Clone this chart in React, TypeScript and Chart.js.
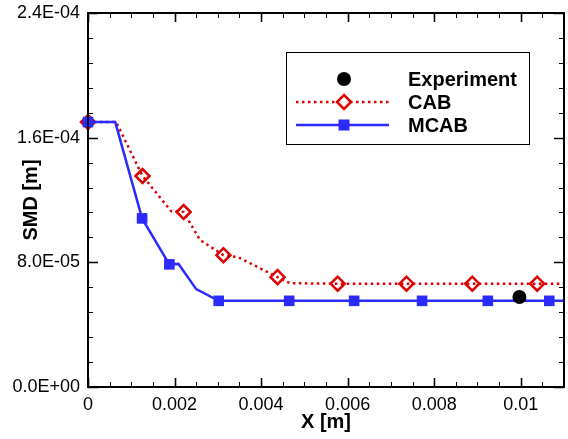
import React, { useEffect, useRef } from "react";
import { Chart, registerables } from "chart.js";

Chart.register(...registerables);

const FONT = '"Liberation Sans", Arial, Helvetica, sans-serif';

// Axis ranges and ticks
const xMin = 0;
const xMax = 0.011;
const xMajorStep = 0.002;
const xMinorStep = 0.0005;
const yMin = 0;
const yMax = 2.4e-4;
const yMajorStep = 8e-5;
const yMinorStep = 1.6e-5;

// Series names
const seriesNames = ["Experiment", "CAB", "MCAB"];

// Experiment
const expX = [0.00997];
const expY = [5.78e-5];

// CAB (line vertices; markers shown where cabMarked = 1)
const cabX = [0, 0.00065, 0.00126, 0.00192, 0.00221, 0.00259, 0.00313, 0.00347, 0.00438, 0.00467, 0.00577, 0.00736, 0.00888, 0.01038, 0.011];
const cabY = [1.70e-4, 1.70e-4, 1.354e-4, 1.129e-4, 1.123e-4, 9.43e-5, 8.46e-5, 8.33e-5, 7.05e-5, 6.66e-5, 6.63e-5, 6.63e-5, 6.63e-5, 6.63e-5, 6.63e-5];
const cabMarked = [1, 0, 1, 0, 1, 0, 1, 0, 1, 0, 1, 1, 1, 1, 0];

// MCAB
const mcabX = [0, 0.00063, 0.00125, 0.00188, 0.00209, 0.0025, 0.00302, 0.00465, 0.00615, 0.00772, 0.00924, 0.01066, 0.011];
const mcabY = [1.70e-4, 1.70e-4, 1.082e-4, 7.87e-5, 7.9e-5, 6.28e-5, 5.53e-5, 5.53e-5, 5.53e-5, 5.53e-5, 5.53e-5, 5.53e-5, 5.53e-5];
const mcabMarked = [1, 0, 1, 1, 0, 0, 1, 1, 1, 1, 1, 1, 0];

const RED = "#dd0000";
const BLUE = "#2b2bff";

function fmtExp(v: number): string {
  if (Math.abs(v) < 1e-12) return "0.0E+00";
  const e = Math.floor(Math.log10(Math.abs(v)) + 1e-9);
  const m = v / Math.pow(10, e);
  const sign = e < 0 ? "-" : "+";
  return m.toFixed(1) + "E" + sign + String(Math.abs(e)).padStart(2, "0");
}

function fmtX(v: number): string {
  if (Math.abs(v) < 1e-12) return "0";
  return parseFloat(v.toFixed(4)).toString();
}

const zip = (xs: number[], ys: number[]) => xs.map((x, i) => ({ x, y: ys[i] }));

function drawDiamond(ctx: CanvasRenderingContext2D, cx: number, cy: number, r: number) {
  ctx.beginPath();
  ctx.moveTo(cx, cy - r);
  ctx.lineTo(cx + r, cy);
  ctx.lineTo(cx, cy + r);
  ctx.lineTo(cx - r, cy);
  ctx.closePath();
}

const framePlugin = {
  id: "framePlugin",
  afterDraw(chart: any) {
    const ctx: CanvasRenderingContext2D = chart.ctx;
    const { left, right, top, bottom } = chart.chartArea;
    const xs = chart.scales.x;
    const ys = chart.scales.y;
    ctx.save();
    ctx.strokeStyle = "#000";
    // ticks
    const nx = Math.round((xMax - xMin) / xMinorStep);
    const perX = Math.round(xMajorStep / xMinorStep);
    for (let i = 0; i <= nx; i++) {
      const px = Math.round(xs.getPixelForValue(xMin + i * xMinorStep)) + 0.5;
      const major = i % perX === 0;
      const len = major ? 9 : 5;
      ctx.lineWidth = major ? 1.6 : 1;
      ctx.beginPath();
      ctx.moveTo(px, bottom);
      ctx.lineTo(px, bottom - len);
      ctx.moveTo(px, top);
      ctx.lineTo(px, top + len);
      ctx.stroke();
    }
    const ny = Math.round((yMax - yMin) / yMinorStep);
    const perY = Math.round(yMajorStep / yMinorStep);
    for (let i = 0; i <= ny; i++) {
      const py = Math.round(ys.getPixelForValue(yMin + i * yMinorStep)) + 0.5;
      const major = i % perY === 0;
      const len = major ? 10 : 5;
      ctx.lineWidth = major ? 1.6 : 1;
      ctx.beginPath();
      ctx.moveTo(left, py);
      ctx.lineTo(left + len, py);
      ctx.moveTo(right, py);
      ctx.lineTo(right - len, py);
      ctx.stroke();
    }
    // frame
    ctx.lineWidth = 2;
    ctx.strokeRect(left, top, right - left, bottom - top);

    // axis titles
    ctx.fillStyle = "#000";
    ctx.font = "bold 20px " + FONT;
    ctx.textAlign = "center";
    ctx.textBaseline = "middle";
    ctx.fillText("X [m]", (left + right) / 2, bottom + 35);
    ctx.save();
    ctx.translate(31.5, (top + bottom) / 2);
    ctx.rotate(-Math.PI / 2);
    ctx.fillText("SMD [m]", 0, 0);
    ctx.restore();

    // legend
    const bx = right - 278;
    const by = top + 39;
    const bw = 243;
    const bh = 92;
    ctx.fillStyle = "#fff";
    ctx.fillRect(bx, by, bw, bh);
    ctx.lineWidth = 1;
    ctx.strokeStyle = "#000";
    ctx.strokeRect(bx + 0.5, by + 0.5, bw, bh);
    const symX = bx + 58;
    const lineX0 = bx + 10;
    const lineX1 = bx + 103;
    const textX = bx + 122;
    const rows = [by + 27, by + 50, by + 73];

    // Experiment
    ctx.fillStyle = "#000";
    ctx.beginPath();
    ctx.arc(symX, rows[0], 7, 0, Math.PI * 2);
    ctx.fill();
    // CAB
    ctx.strokeStyle = RED;
    ctx.lineWidth = 2.5;
    ctx.setLineDash([2.5, 3.5]);
    ctx.beginPath();
    ctx.moveTo(lineX0, rows[1]);
    ctx.lineTo(lineX1, rows[1]);
    ctx.stroke();
    ctx.setLineDash([]);
    ctx.fillStyle = "#fff";
    drawDiamond(ctx, symX, rows[1], 7);
    ctx.fill();
    ctx.stroke();
    // MCAB
    ctx.strokeStyle = BLUE;
    ctx.lineWidth = 2.5;
    ctx.beginPath();
    ctx.moveTo(lineX0, rows[2]);
    ctx.lineTo(lineX1, rows[2]);
    ctx.stroke();
    ctx.fillStyle = BLUE;
    ctx.fillRect(symX - 5.5, rows[2] - 5.5, 11, 11);

    ctx.fillStyle = "#000";
    ctx.font = "bold 20px " + FONT;
    ctx.textAlign = "left";
    ctx.textBaseline = "middle";
    seriesNames.forEach((n, i) => ctx.fillText(n, textX, rows[i] + 1));
    ctx.restore();
  },
};

export default function App() {
  const ref = useRef<HTMLCanvasElement | null>(null);
  useEffect(() => {
    if (!ref.current) return;
    const chart = new Chart(ref.current, {
      type: "line",
      data: {
        datasets: [
          {
            label: seriesNames[0],
            data: zip(expX, expY),
            showLine: false,
            pointRadius: 7,
            pointBackgroundColor: "#000",
            pointBorderColor: "#000",
            pointBorderWidth: 0,
            clip: false as any,
          },
          {
            label: seriesNames[2],
            data: zip(mcabX, mcabY),
            borderColor: BLUE,
            borderWidth: 2.5,
            tension: 0,
            pointStyle: "rect",
            pointRadius: mcabMarked.map((m) => (m ? 7.5 : 0)),
            pointBackgroundColor: BLUE,
            pointBorderColor: BLUE,
            pointBorderWidth: 0,
            clip: false as any,
          },
          {
            label: seriesNames[1],
            data: zip(cabX, cabY),
            borderColor: RED,
            borderWidth: 2.5,
            borderDash: [2.5, 3.5],
            tension: 0,
            pointStyle: "rectRot",
            pointRadius: cabMarked.map((m) => (m ? 7 : 0)),
            pointBackgroundColor: "rgba(0,0,0,0)",
            pointBorderColor: RED,
            pointBorderWidth: 2.5,
            clip: false as any,
          },
        ],
      },
      options: {
        responsive: false,
        devicePixelRatio: 1,
        animation: false,
        layout: { autoPadding: false, padding: { left: 0, right: 4, top: 13, bottom: 0 } },
        plugins: { legend: { display: false }, tooltip: { enabled: false } },
        scales: {
          x: {
            type: "linear",
            min: xMin,
            max: xMax,
            grid: { display: false, drawTicks: false },
            border: { display: false },
            ticks: {
              stepSize: xMajorStep,
              includeBounds: false,
              padding: 7,
              color: "#000",
              font: { family: FONT, size: 18 },
              maxRotation: 0,
              callback: (v: any) => fmtX(Number(v)),
            },
            afterFit: (s: any) => {
              s.height = 52;
              s.paddingLeft = 0;
              s.paddingRight = 0;
              s.paddingTop = 0;
              s.paddingBottom = 0;
            },
          },
          y: {
            type: "linear",
            min: yMin,
            max: yMax,
            grid: { display: false, drawTicks: false },
            border: { display: false },
            ticks: {
              stepSize: yMajorStep,
              padding: 8,
              color: "#000",
              font: { family: FONT, size: 18 },
              callback: (v: any) => fmtExp(Number(v)),
            },
            afterFit: (s: any) => {
              s.width = 88;
              s.paddingLeft = 0;
              s.paddingRight = 0;
              s.paddingTop = 0;
              s.paddingBottom = 0;
            },
          },
        },
      },
      plugins: [framePlugin],
    });
    return () => chart.destroy();
  }, []);
  return (
    <div style={{ position: "fixed", left: 0, top: 0, width: 568, height: 439, background: "#fff" }}>
      <canvas ref={ref} width={568} height={439} style={{ display: "block" }} />
    </div>
  );
}
